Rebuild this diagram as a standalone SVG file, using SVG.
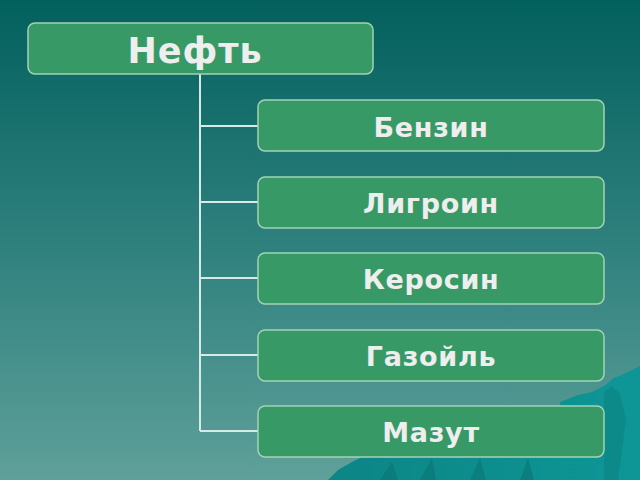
<svg xmlns="http://www.w3.org/2000/svg" width="640" height="480" viewBox="0 0 640 480">
<defs>
<linearGradient id="bg" x1="0" y1="0" x2="0" y2="1">
<stop offset="0" stop-color="#02605d"/>
<stop offset="0.5" stop-color="#2e807d"/>
<stop offset="1" stop-color="#5fa09a"/>
</linearGradient>
<linearGradient id="mt" x1="0" y1="0" x2="1" y2="0">
<stop offset="0" stop-color="#0c8585"/>
<stop offset="1" stop-color="#0e9696"/>
</linearGradient>
<style>
.box{fill:#379a66;stroke:#a3d3b6;stroke-width:1.5}
.lbl{font-family:"DejaVu Sans",Verdana,sans-serif;font-weight:bold;fill:#eeeeee;text-anchor:middle;letter-spacing:0.7px}
.con{stroke:#d6ebe5;stroke-width:2;fill:none}
</style>
</defs>
<rect width="640" height="480" fill="url(#bg)"/>
<path d="M328,480 L338,470 L352,462 L366,455 L560,455 L560,402 L578,395 L592,392 L604,386 L614,378 L624,374 L640,366 L640,480 Z" fill="url(#mt)"/>
<path d="M604,392 L612,386 L620,394 L626,420 L618,480 L604,480 Z" fill="#0a8080" opacity="0.5"/>
<path d="M380,480 L392,462 L398,480 Z M420,480 L432,458 L436,480 Z M470,480 L480,458 L486,480 Z M520,480 L528,458 L534,480 Z" fill="#0a7474" opacity="0.6"/>
<g id="connectors">
<path class="con" d="M200,74 V431 M200,126 H258 M200,202 H258 M200,278 H258 M200,355 H258 M200,431 H258"/>
</g>
<g id="node-neft">
<rect class="box" x="28" y="23" width="345" height="51" rx="7"/>
<text class="lbl" x="195" y="63" font-size="35" style="letter-spacing:1px">Нефть</text>
</g>
<g id="node-benzin">
<rect class="box" x="258" y="100" width="346" height="51" rx="7"/>
<text class="lbl" x="431" y="137" font-size="27">Бензин</text>
</g>
<g id="node-ligroin">
<rect class="box" x="258" y="177" width="346" height="51" rx="7"/>
<text class="lbl" x="431" y="213" font-size="27">Лигроин</text>
</g>
<g id="node-kerosin">
<rect class="box" x="258" y="253" width="346" height="51" rx="7"/>
<text class="lbl" x="431" y="289" font-size="27">Керосин</text>
</g>
<g id="node-gazoil">
<rect class="box" x="258" y="330" width="346" height="51" rx="7"/>
<text class="lbl" x="431" y="366" font-size="27">Газойль</text>
</g>
<g id="node-mazut">
<rect class="box" x="258" y="406" width="346" height="51" rx="7"/>
<text class="lbl" x="431" y="442" font-size="27">Мазут</text>
</g>
</svg>
